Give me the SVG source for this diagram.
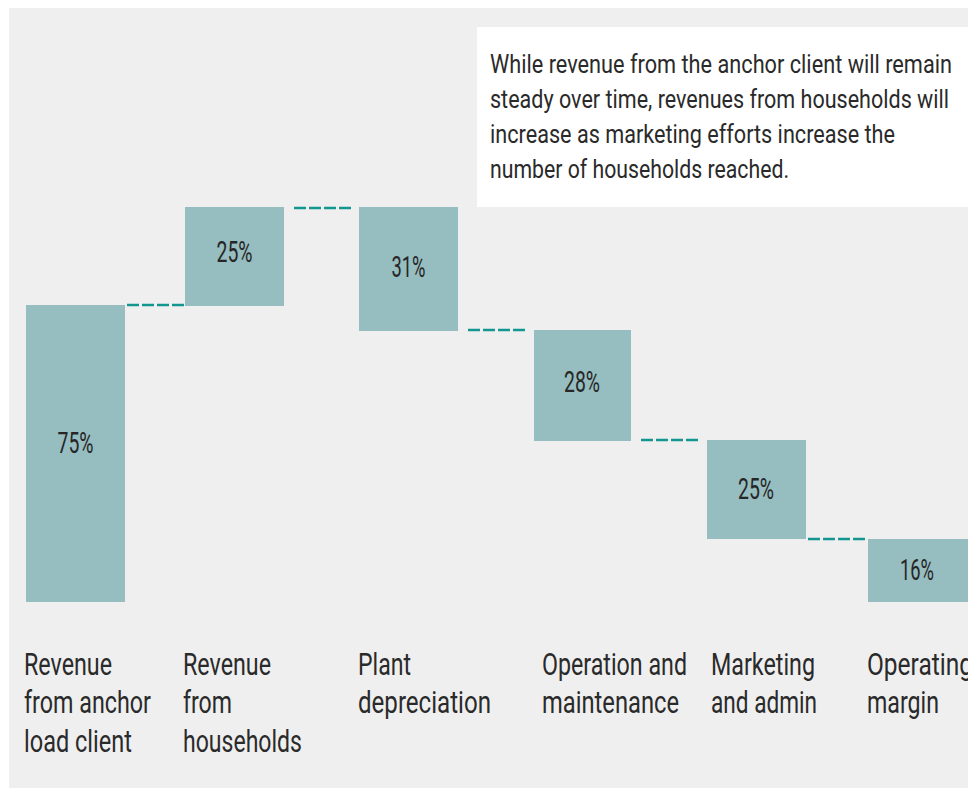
<svg xmlns="http://www.w3.org/2000/svg" width="968" height="789" viewBox="0 0 968 789">
  <style>
    .bar { fill: #96bdbf; }
    .pct { font-family: Roboto, "Liberation Sans", sans-serif; font-size: 29.5px; fill: #262626; text-anchor: middle; }
    .cat { font-family: Roboto, "Liberation Sans", sans-serif; font-size: 31px; fill: #2a2a2a; font-weight: 400; }
    .note { font-family: Roboto, "Liberation Sans", sans-serif; font-size: 25px; fill: #2a2a2a; font-weight: 400; }
    .conn { stroke: #13968f; stroke-width: 2.6; stroke-dasharray: 12 3; fill: none; }
  </style>
  <rect x="0" y="0" width="968" height="789" fill="#ffffff"/>
  <rect x="9" y="8" width="959" height="780" fill="#efefef"/>

  <g id="note">
    <rect x="477" y="27" width="491" height="180" fill="#ffffff"/>
    <text class="note" x="490" y="73" textLength="462" lengthAdjust="spacingAndGlyphs">While revenue from the anchor client will remain</text>
    <text class="note" x="490" y="108" textLength="459" lengthAdjust="spacingAndGlyphs">steady over time, revenues from households will</text>
    <text class="note" x="490" y="143" textLength="405" lengthAdjust="spacingAndGlyphs">increase as marketing efforts increase the</text>
    <text class="note" x="490" y="178" textLength="299" lengthAdjust="spacingAndGlyphs">number of households reached.</text>
  </g>

  <g id="connectors">
    <line class="conn" x1="127" y1="305" x2="184" y2="305"/>
    <line class="conn" x1="294" y1="208" x2="351" y2="208"/>
    <line class="conn" x1="468" y1="330" x2="525" y2="330"/>
    <line class="conn" x1="641" y1="440" x2="698" y2="440"/>
    <line class="conn" x1="808" y1="539" x2="865" y2="539"/>
  </g>

  <g id="bar-anchor">
    <rect class="bar" x="26" y="305" width="99" height="297"/>
    <text class="pct" x="75.5" y="453" textLength="36" lengthAdjust="spacingAndGlyphs">75%</text>
    <text class="cat" x="24" y="675" textLength="88" lengthAdjust="spacingAndGlyphs">Revenue</text>
    <text class="cat" x="24" y="713" textLength="127" lengthAdjust="spacingAndGlyphs">from anchor</text>
    <text class="cat" x="24" y="752" textLength="108" lengthAdjust="spacingAndGlyphs">load client</text>
  </g>

  <g id="bar-households">
    <rect class="bar" x="185" y="207" width="99" height="99"/>
    <text class="pct" x="234.5" y="262" textLength="36" lengthAdjust="spacingAndGlyphs">25%</text>
    <text class="cat" x="183" y="675" textLength="88" lengthAdjust="spacingAndGlyphs">Revenue</text>
    <text class="cat" x="183" y="713" textLength="49" lengthAdjust="spacingAndGlyphs">from</text>
    <text class="cat" x="183" y="752" textLength="119" lengthAdjust="spacingAndGlyphs">households</text>
  </g>

  <g id="bar-depreciation">
    <rect class="bar" x="359" y="207" width="99" height="124"/>
    <text class="pct" x="408.5" y="277" textLength="34" lengthAdjust="spacingAndGlyphs">31%</text>
    <text class="cat" x="358" y="675" textLength="53" lengthAdjust="spacingAndGlyphs">Plant</text>
    <text class="cat" x="358" y="713" textLength="133" lengthAdjust="spacingAndGlyphs">depreciation</text>
  </g>

  <g id="bar-operation">
    <rect class="bar" x="534" y="330" width="97" height="111"/>
    <text class="pct" x="582" y="392" textLength="36" lengthAdjust="spacingAndGlyphs">28%</text>
    <text class="cat" x="542" y="675" textLength="145" lengthAdjust="spacingAndGlyphs">Operation and</text>
    <text class="cat" x="542" y="713" textLength="137" lengthAdjust="spacingAndGlyphs">maintenance</text>
  </g>

  <g id="bar-marketing">
    <rect class="bar" x="707" y="440" width="99" height="99"/>
    <text class="pct" x="756" y="499" textLength="36" lengthAdjust="spacingAndGlyphs">25%</text>
    <text class="cat" x="711" y="675" textLength="104" lengthAdjust="spacingAndGlyphs">Marketing</text>
    <text class="cat" x="711" y="713" textLength="106" lengthAdjust="spacingAndGlyphs">and admin</text>
  </g>

  <g id="bar-margin">
    <rect class="bar" x="868" y="539" width="100" height="63"/>
    <text class="pct" x="917" y="580" textLength="34" lengthAdjust="spacingAndGlyphs">16%</text>
    <text class="cat" x="867" y="675" textLength="106" lengthAdjust="spacingAndGlyphs">Operating</text>
    <text class="cat" x="867" y="713" textLength="72" lengthAdjust="spacingAndGlyphs">margin</text>
  </g>
</svg>
